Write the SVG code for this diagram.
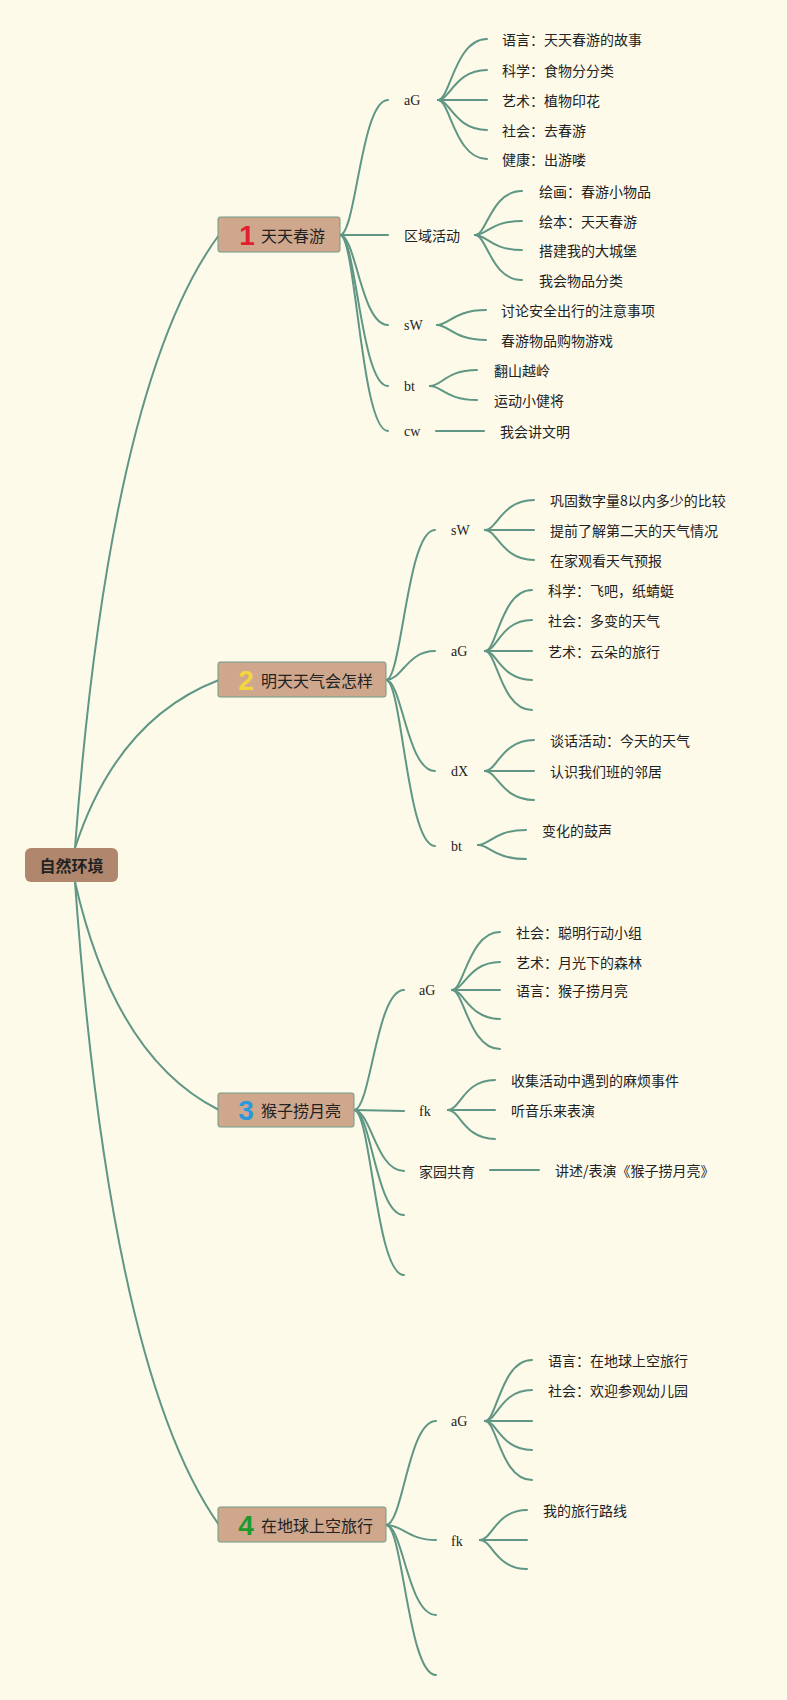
<svg xmlns="http://www.w3.org/2000/svg" width="787" height="1700" viewBox="0 0 787 1700">
<style>
.ln{fill:none;stroke:#5f9684;stroke-width:2;stroke-linecap:round}
.t{font-family:"Noto Sans CJK SC","Noto Sans",sans-serif;font-size:14px;fill:#222;dominant-baseline:central}
.l{font-family:"Liberation Serif",serif;font-size:14px;fill:#222;dominant-baseline:central}
.nt{font-family:"Noto Sans CJK SC","Noto Sans",sans-serif;font-size:16px;fill:#222;dominant-baseline:central}
.num{font-family:"Liberation Sans",Arial,sans-serif;font-size:28px;font-weight:bold;text-anchor:middle;dominant-baseline:central}
.box{fill:#cfa78d;stroke:#6f9a86;stroke-width:1}
</style>
<rect width="787" height="1700" fill="#fdfaea"/>
<g id="connectors">
<path class="ln" d="M75,848 Q110,382 219,235"/>
<path class="ln" d="M75,848 Q117,719 219,680"/>
<path class="ln" d="M75,882 Q115,1058 219,1110"/>
<path class="ln" d="M75,882 Q110,1371 219,1525"/>
<path class="ln" d="M340,235 C356,235 361,100 388,100"/>
<path class="ln" d="M340,235 L388,235"/>
<path class="ln" d="M340,235 C356,235 361,325 388,325"/>
<path class="ln" d="M340,235 C356,235 361,386 388,386"/>
<path class="ln" d="M340,235 C356,235 361,431 388,431"/>
<path class="ln" d="M438,100 C450,100 455,39 487,39"/>
<path class="ln" d="M438,100 C450,100 455,70 487,70"/>
<path class="ln" d="M438,100 L487,100"/>
<path class="ln" d="M438,100 C450,100 455,130 487,130"/>
<path class="ln" d="M438,100 C450,100 455,159 487,159"/>
<path class="ln" d="M475,235 C487,235 491,191 522,191"/>
<path class="ln" d="M475,235 C487,235 491,221 522,221"/>
<path class="ln" d="M475,235 C487,235 491,250 522,250"/>
<path class="ln" d="M475,235 C487,235 491,280 522,280"/>
<path class="ln" d="M437,325 C449,325 454,310 486,310"/>
<path class="ln" d="M437,325 C449,325 454,340 486,340"/>
<path class="ln" d="M430,386 C442,386 446,370 477,370"/>
<path class="ln" d="M430,386 C442,386 446,400 477,400"/>
<path class="ln" d="M436,431 L484,431"/>
<path class="ln" d="M386,680 C402,680 407,530 435,530"/>
<path class="ln" d="M386,680 C402,680 407,651 435,651"/>
<path class="ln" d="M386,680 C402,680 407,771 435,771"/>
<path class="ln" d="M386,680 C402,680 407,846 435,846"/>
<path class="ln" d="M485,530 C497,530 502,500 534,500"/>
<path class="ln" d="M485,530 L534,530"/>
<path class="ln" d="M485,530 C497,530 502,560 534,560"/>
<path class="ln" d="M485,651 C497,651 501,590 532,590"/>
<path class="ln" d="M485,651 C497,651 501,620 532,620"/>
<path class="ln" d="M485,651 L532,651"/>
<path class="ln" d="M485,651 C497,651 501,680 532,680"/>
<path class="ln" d="M485,651 C497,651 501,710 532,710"/>
<path class="ln" d="M485,771 C497,771 502,740 534,740"/>
<path class="ln" d="M485,771 L534,771"/>
<path class="ln" d="M485,771 C497,771 502,800 534,800"/>
<path class="ln" d="M478,845 C490,845 494,830 526,830"/>
<path class="ln" d="M478,845 C490,845 494,859 526,859"/>
<path class="ln" d="M354,1110 C371,1110 376,990 404,990"/>
<path class="ln" d="M354,1110 L404,1111"/>
<path class="ln" d="M354,1110 C371,1110 376,1171 404,1171"/>
<path class="ln" d="M354,1110 C371,1110 376,1215 404,1215"/>
<path class="ln" d="M354,1110 C371,1110 376,1275 404,1275"/>
<path class="ln" d="M452,990 C464,990 469,932 500,932"/>
<path class="ln" d="M452,990 C464,990 469,962 500,962"/>
<path class="ln" d="M452,990 L500,990"/>
<path class="ln" d="M452,990 C464,990 469,1019 500,1019"/>
<path class="ln" d="M452,990 C464,990 469,1049 500,1049"/>
<path class="ln" d="M448,1110 C460,1110 464,1080 495,1080"/>
<path class="ln" d="M448,1110 L495,1110"/>
<path class="ln" d="M448,1110 C460,1110 464,1139 495,1139"/>
<path class="ln" d="M490,1170 L539,1170"/>
<path class="ln" d="M386,1525 C403,1525 408,1421 436,1421"/>
<path class="ln" d="M386,1525 C403,1525 408,1540 436,1540"/>
<path class="ln" d="M386,1525 C403,1525 408,1615 436,1615"/>
<path class="ln" d="M386,1525 C403,1525 408,1675 436,1675"/>
<path class="ln" d="M485,1421 C497,1421 501,1360 532,1360"/>
<path class="ln" d="M485,1421 C497,1421 501,1390 532,1390"/>
<path class="ln" d="M485,1421 L532,1421"/>
<path class="ln" d="M485,1421 C497,1421 501,1450 532,1450"/>
<path class="ln" d="M485,1421 C497,1421 501,1480 532,1480"/>
<path class="ln" d="M480,1540 C492,1540 496,1510 527,1510"/>
<path class="ln" d="M480,1540 L527,1540"/>
<path class="ln" d="M480,1540 C492,1540 496,1569 527,1569"/>
</g>
<g id="root">
<rect x="25" y="848" width="93" height="34" rx="6" fill="#b0866d"/>
<text x="71.5" y="865" class="nt" text-anchor="middle" font-weight="bold">自然环境</text>
</g>
<g id="b1">
<rect class="box" x="218" y="217" width="122" height="35" rx="2"/>
<text class="num" x="247" y="235" fill="#e0202e">1</text>
<text class="nt" x="261" y="235">天天春游</text>
</g>
<g id="b1-labels">
<text class="l" x="404" y="100">aG</text>
<text class="t" x="404" y="235">区域活动</text>
<text class="l" x="404" y="325">sW</text>
<text class="l" x="404" y="386">bt</text>
<text class="l" x="404" y="431">cw</text>
</g>
<g id="b1-leaves">
<text class="t" x="502" y="39">语言：天天春游的故事</text>
<text class="t" x="502" y="70">科学：食物分分类</text>
<text class="t" x="502" y="100">艺术：植物印花</text>
<text class="t" x="502" y="130">社会：去春游</text>
<text class="t" x="502" y="159">健康：出游喽</text>
<text class="t" x="539" y="191">绘画：春游小物品</text>
<text class="t" x="539" y="221">绘本：天天春游</text>
<text class="t" x="539" y="250">搭建我的大城堡</text>
<text class="t" x="539" y="280">我会物品分类</text>
<text class="t" x="501" y="310">讨论安全出行的注意事项</text>
<text class="t" x="501" y="340">春游物品购物游戏</text>
<text class="t" x="494" y="370">翻山越岭</text>
<text class="t" x="494" y="400">运动小健将</text>
<text class="t" x="500" y="431">我会讲文明</text>
</g>
<g id="b2">
<rect class="box" x="218" y="662" width="168" height="35" rx="2"/>
<text class="num" x="246" y="680" fill="#f3d63c">2</text>
<text class="nt" x="261" y="680">明天天气会怎样</text>
</g>
<g id="b2-labels">
<text class="l" x="451" y="530">sW</text>
<text class="l" x="451" y="651">aG</text>
<text class="l" x="451" y="771">dX</text>
<text class="l" x="451" y="846">bt</text>
</g>
<g id="b2-leaves">
<text class="t" x="550" y="500">巩固数字量8以内多少的比较</text>
<text class="t" x="550" y="530">提前了解第二天的天气情况</text>
<text class="t" x="550" y="560">在家观看天气预报</text>
<text class="t" x="548" y="590">科学：飞吧，纸蜻蜓</text>
<text class="t" x="548" y="620">社会：多变的天气</text>
<text class="t" x="548" y="651">艺术：云朵的旅行</text>
<text class="t" x="550" y="740">谈话活动：今天的天气</text>
<text class="t" x="550" y="771">认识我们班的邻居</text>
<text class="t" x="542" y="830">变化的鼓声</text>
</g>
<g id="b3">
<rect class="box" x="218" y="1093" width="136" height="34" rx="2"/>
<text class="num" x="246" y="1110" fill="#2b98dc">3</text>
<text class="nt" x="261" y="1110">猴子捞月亮</text>
</g>
<g id="b3-labels">
<text class="l" x="419" y="990">aG</text>
<text class="l" x="419" y="1111">fk</text>
<text class="t" x="419" y="1171">家园共育</text>
</g>
<g id="b3-leaves">
<text class="t" x="516" y="932">社会：聪明行动小组</text>
<text class="t" x="516" y="962">艺术：月光下的森林</text>
<text class="t" x="516" y="990">语言：猴子捞月亮</text>
<text class="t" x="511" y="1080">收集活动中遇到的麻烦事件</text>
<text class="t" x="511" y="1110">听音乐来表演</text>
<text class="t" x="555" y="1170">讲述/表演《猴子捞月亮》</text>
</g>
<g id="b4">
<rect class="box" x="218" y="1507" width="168" height="35" rx="2"/>
<text class="num" x="246" y="1525" fill="#1d9a2c">4</text>
<text class="nt" x="261" y="1525">在地球上空旅行</text>
</g>
<g id="b4-labels">
<text class="l" x="451" y="1421">aG</text>
<text class="l" x="451" y="1541">fk</text>
</g>
<g id="b4-leaves">
<text class="t" x="548" y="1360">语言：在地球上空旅行</text>
<text class="t" x="548" y="1390">社会：欢迎参观幼儿园</text>
<text class="t" x="543" y="1510">我的旅行路线</text>
</g>
</svg>
